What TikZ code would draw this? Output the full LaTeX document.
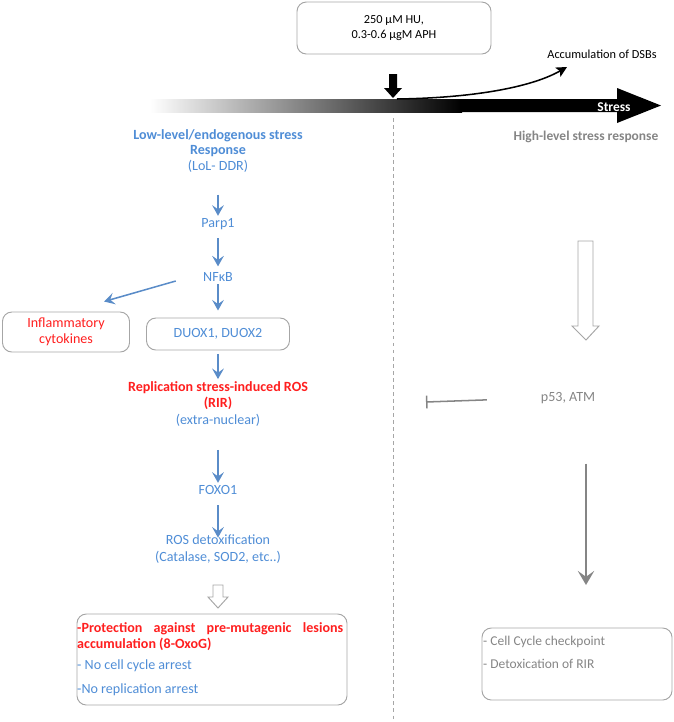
\documentclass[tikz,border=0pt]{standalone}
\usepackage{fontspec}
\setmainfont{Carlito}
\usetikzlibrary{arrows.meta}

\definecolor{lolblue}{HTML}{4F8DD6}
\definecolor{arrblue}{HTML}{5A8CC8}
\definecolor{rirred}{HTML}{FF1F1F}
\definecolor{higray}{HTML}{858585}
\definecolor{boxgray}{HTML}{A6A6A6}

\tikzset{
  bluetxt/.style={text=lolblue, font=\fontsize{12}{14}\selectfont, align=center, inner sep=1pt},
  redtxt/.style={text=rirred, font=\fontsize{12}{14}\selectfont, align=center, inner sep=1pt},
  graytxt/.style={text=higray, font=\fontsize{12}{14}\selectfont, align=center, inner sep=1pt},
  roundbox/.style={draw=boxgray, line width=0.8pt, rounded corners=8pt},
  bluearrow/.style={draw=arrblue, line width=1.3pt, -{Stealth[length=9pt,width=10pt,inset=3.5pt]}},
  grayarrow/.style={draw=higray, line width=1.6pt, -{Stealth[length=12pt,width=14pt,inset=5pt]}},
  hollow/.style={draw=boxgray, line width=0.8pt, fill=white}
}

\begin{document}
\begin{tikzpicture}[x=0.03cm,y=-0.03cm]
		\useasboundingbox (0,0) rectangle (674,722);
		\begin{scope}
			% dose and stress axis
			\node[roundbox, minimum width=5.82cm, minimum height=1.56cm, align=center,
			      font=\fontsize{10.5}{13}\selectfont] (dose) at (394,28) {250 μM HU,\\0.3-0.6 μgM APH};
			\shade[left color=white, right color=black, draw=none] (150,99) rectangle (462,112);
			\fill[black] (460,99) -- (617,99) -- (617,88) -- (661,105.5) -- (617,123) -- (617,112) -- (460,112) -- cycle;
			\node[text=white, font=\bfseries\fontsize{11.5}{13}\selectfont, inner sep=0pt] (stress) at (614,107) {Stress};
			\fill[black] (389,74) -- (397,74) -- (397,88) -- (402,88) -- (393,98) -- (384,88) -- (389,88) -- cycle;
			\coordinate (hit) at (397,99);
			\node[font=\fontsize{10.5}{12}\selectfont, inner sep=1pt] (dsb) at (602,54) {Accumulation of DSBs};
			\coordinate (dsbtip) at (567,67);
			\draw[line width=1.3pt, -{Stealth[length=9pt,width=9pt,inset=2pt]}] (hit) .. controls (470,98) and (530,88) .. (dsbtip);
			\draw[boxgray, dashed, line width=0.8pt] (393,118) -- (393,722);
		\end{scope}
		\begin{scope}
			% low-level side
			\node[bluetxt, font=\fontsize{12}{13}\selectfont] (lol) at (218,151) {\textbf{Low-level/endogenous stress}\\\textbf{Response}\\(LoL- DDR)};
			\node[bluetxt] (parp) at (218,224) {Parp1};
			\node[bluetxt] (nfkb) at (218,277) {NFκB};
			\node[roundbox, bluetxt, minimum width=4.29cm, minimum height=0.96cm] (duox) at (218,334) {DUOX1, DUOX2};
			\node[roundbox, redtxt, minimum width=3.81cm, minimum height=1.2cm] (infl) at (66,332) {Inflammatory\\cytokines};
			\node[redtxt, font=\fontsize{12}{14}\selectfont] (rir) at (218,404) {\textbf{Replication stress-induced ROS}\\\textbf{(RIR)}\\\textcolor{lolblue}{(extra-nuclear)}};
			\node[bluetxt] (foxo) at (218,490) {FOXO1};
			\node[bluetxt, font=\fontsize{12}{15}\selectfont] (detox) at (218,549) {ROS detoxification\\(Catalase, SOD2, etc..)};
			\draw[bluearrow, shorten <=18pt, shorten >=1pt] (lol.south) -- (parp.north);
			\draw[bluearrow, shorten <=6pt, shorten >=4pt] (parp.south) -- (nfkb.north);
			\draw[bluearrow, shorten <=1pt, shorten >=6pt] (nfkb.south) -- (duox.north);
			\draw[bluearrow] ([shift={(-26,4)}]nfkb.west) -- ([shift={(38,-10)}]infl.north);
			\draw[bluearrow, shorten <=3pt, shorten >=1pt] (duox.south) -- (rir.north);
			\draw[bluearrow, shorten <=19pt, shorten >=1pt] (rir.south) -- (foxo.north);
			\draw[bluearrow, shorten <=8pt, shorten >=-4pt] (foxo.south) -- (detox.north);
			\draw[hollow] (213,585) -- (223,585) -- (223,597) -- (228,597) -- (218,608) -- (208,597) -- (213,597) -- cycle;
			\node[roundbox, minimum width=8.1cm, minimum height=2.73cm] (prot) at (212,659.5) {};
			\node[anchor=north west, inner sep=0pt, align=left, text=lolblue,
			      font=\fontsize{12}{13.7}\selectfont] (protxt) at (77,622)
			      {\textcolor{rirred}{\bfseries\makebox[7.98cm][s]{-Protection against pre-mutagenic lesions}}\\
			       \textcolor{rirred}{\bfseries accumulation (8-OxoG)}\\[4.3pt]
			       - No cell cycle arrest\\[6.8pt]
			       -No replication arrest};
		\end{scope}
		\begin{scope}
			% high-level side
			\node[graytxt, font=\bfseries\fontsize{11.5}{13}\selectfont] (hilvl) at (586,137) {High-level stress response};
			\draw[hollow] (578,241) -- (593,241) -- (593,326) -- (599,326) -- (586,340) -- (572,326) -- (578,326) -- cycle;
			\node[graytxt] (p53) at (568,398) {p53, ATM};
			\coordinate (rirhit) at (426,402);
			\draw[draw=higray, line width=1.3pt, -{Bar[width=11pt,line width=1.3pt]}, shorten <=45pt] (p53.west) -- (rirhit);
			\node[roundbox, minimum width=5.7cm, minimum height=2.16cm] (chk) at (577,664) {};
			\coordinate (chkin) at (586,585);
			\draw[grayarrow, shorten <=50pt] (p53.south -| chkin) -- (chkin);
			\node[anchor=north west, inner sep=0pt, align=left, text=higray,
			      font=\fontsize{11.5}{19.6}\selectfont] (chktxt) at (483,636)
			      {- Cell Cycle checkpoint\\- Detoxication of RIR};
		\end{scope}
	\end{tikzpicture}
\end{document}
